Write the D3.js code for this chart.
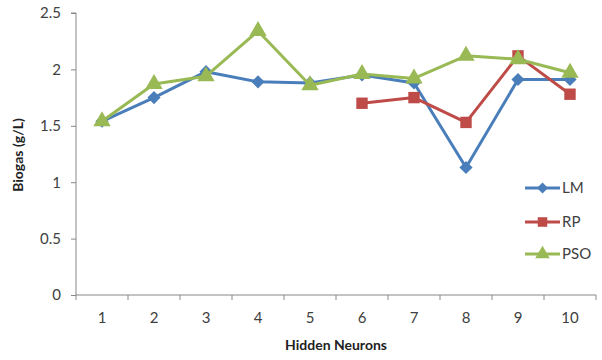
<!DOCTYPE html>
<html><head><meta charset="utf-8">
<script src="https://cdn.jsdelivr.net/npm/d3@7"></script>
<style>body{margin:0;background:#fff}svg{display:block}text{font-family:Lato,"Open Sans",sans-serif}</style>
</head><body><svg id="c" width="602" height="360"></svg>
<script>
const categories = ["1","2","3","4","5","6","7","8","9","10"];
const LM  = [1.54,1.75,1.98,1.89,1.88,1.95,1.88,1.13,1.91,1.91];
const RP  = [null,null,null,null,null,1.70,1.75,1.53,2.12,1.78];
const PSO = [1.54,1.87,1.94,2.34,1.86,1.96,1.92,2.12,2.09,1.97];
const yTicks = [0,0.5,1,1.5,2,2.5];
const seriesNames = ["LM","RP","PSO"];
const colors = {LM:"#4A7EBB", RP:"#BE4B48", PSO:"#98B954"};
const shapes = {LM:d3.symbolDiamond2, RP:d3.symbolSquare, PSO:d3.symbolTriangle};

const svg = d3.select("#c");
const m = {l:76, t:13, r:596, b:295};
const x = d3.scaleBand().domain(categories).range([m.l, m.r]);
const y = d3.scaleLinear().domain([0,2.5]).range([m.b, m.t]);

const ya = svg.append("g").attr("transform",`translate(${m.l},0)`)
  .call(d3.axisLeft(y).tickValues(yTicks).tickSize(5).tickPadding(10).tickFormat(d=>d));
ya.select(".domain").attr("stroke","#888").attr("d",`M-5,${m.t}H0V${m.b}`);
ya.selectAll(".tick line").attr("stroke","#888");
ya.selectAll("text").attr("font-size",15).attr("fill","#404040");

const xa = svg.append("g").attr("transform",`translate(0,${m.b})`)
  .call(d3.axisBottom(x).tickSize(0).tickPadding(17));
xa.select(".domain").attr("stroke","#888").attr("d",`M${m.l},0H${m.r}`);
xa.selectAll("text").attr("font-size",15).attr("fill","#404040");
xa.selectAll(".bt").data(categories.concat(["end"])).enter().append("line")
  .attr("x1",(d,i)=>m.l+i*x.bandwidth()).attr("x2",(d,i)=>m.l+i*x.bandwidth())
  .attr("y1",0).attr("y2",5).attr("stroke","#888");

const data = {LM, RP, PSO};
const line = d3.line().defined(d=>d.v!=null).x(d=>x(d.c)+x.bandwidth()/2).y(d=>y(d.v));
const sizes = {LM:110, RP:130, PSO:130};
seriesNames.forEach(name=>{
  const pts = categories.map((c,i)=>({c, v:data[name][i]}));
  svg.append("path").datum(pts).attr("d",line).attr("fill","none")
    .attr("stroke",colors[name]).attr("stroke-width",3).attr("stroke-linejoin","round");
  svg.append("g").selectAll("path").data(pts.filter(d=>d.v!=null)).enter().append("path")
    .attr("d",d3.symbol().type(shapes[name]).size(sizes[name]))
    .attr("transform",d=>`translate(${x(d.c)+x.bandwidth()/2},${y(d.v)})`)
    .attr("fill",colors[name]);
});

const lg = svg.append("g");
const legY = [188,222,254];
seriesNames.forEach((name,i)=>{
  const g = lg.append("g").attr("transform",`translate(525,${legY[i]})`);
  g.append("line").attr("x1",0).attr("x2",35).attr("stroke",colors[name]).attr("stroke-width",3);
  g.append("path").attr("d",d3.symbol().type(shapes[name]).size(sizes[name]*0.7)).attr("transform","translate(17.5,0)").attr("fill",colors[name]);
  g.append("text").attr("x",37).attr("y",5).attr("font-size",15).attr("fill","#404040").text(name);
});

svg.append("text").attr("x",336).attr("y",350).attr("text-anchor","middle")
  .attr("font-size",14).attr("font-weight","bold").attr("fill","#222").text("Hidden Neurons");
svg.append("text").attr("transform","translate(23,155) rotate(-90)").attr("text-anchor","middle")
  .attr("font-size",14).attr("font-weight","bold").attr("fill","#222").text("Biogas (g/L)");
</script></body></html>
